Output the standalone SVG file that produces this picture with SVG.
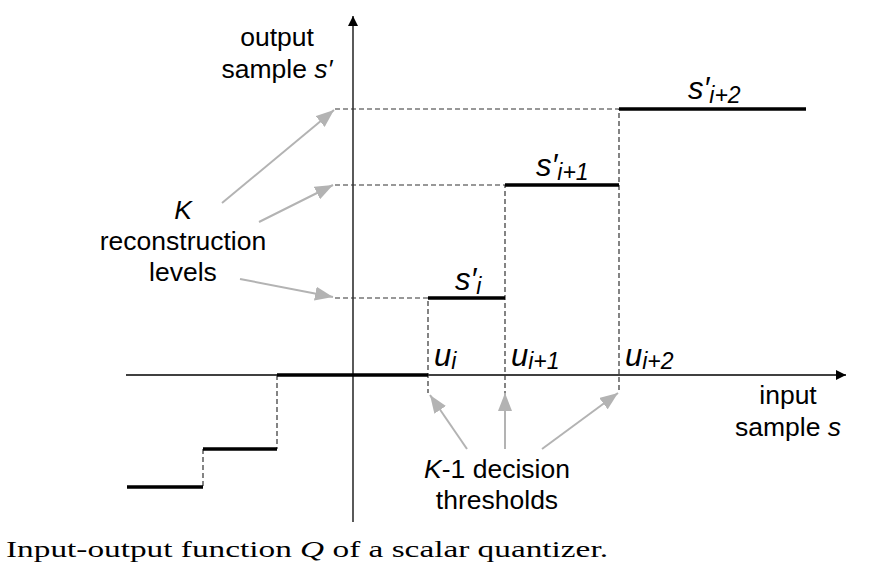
<svg xmlns="http://www.w3.org/2000/svg" width="887" height="571" viewBox="0 0 887 571">
<style>
.t{font-family:"Liberation Sans",Arial,sans-serif;font-size:26.5px;fill:#000}
.i{font-style:italic}
.lv{stroke:#000;stroke-width:3.5;fill:none}
.d{stroke:#333;stroke-width:1.2;stroke-dasharray:5,3;fill:none}
.ax{stroke:#000;stroke-width:1.3;fill:none}
.g{stroke:#b3b3b3;stroke-width:2;fill:none}
</style>
<defs>
<marker id="ah" viewBox="0 0 10 10" refX="10" refY="5" markerWidth="10" markerHeight="10" markerUnits="userSpaceOnUse" orient="auto"><path d="M0,0L10,5L0,10z" fill="#000"/></marker>
<marker id="ga" viewBox="0 0 18 14" refX="18" refY="7" markerWidth="18" markerHeight="14" markerUnits="userSpaceOnUse" orient="auto"><path d="M0,0L18,7L0,14z" fill="#b3b3b3"/></marker>
</defs>
<g id="axes">
<line class="ax" x1="353" y1="522" x2="353" y2="16" marker-end="url(#ah)"/>
<line class="ax" x1="126" y1="375" x2="846" y2="375" marker-end="url(#ah)"/>
</g>
<g id="guides">
<path class="d" d="M335,109H619V393M335,185H505V393M335,298H428V393M277,375V449M203,449V487"/>
</g>
<g id="levels">
<path class="lv" d="M619,109H806M505,185H619M428,298H505M277,375H428M203,449H277M127,487H203"/>
</g>
<g id="connectors">
<line class="g" x1="222" y1="203" x2="334" y2="110" marker-end="url(#ga)"/>
<line class="g" x1="259" y1="222" x2="333" y2="185" marker-end="url(#ga)"/>
<line class="g" x1="240" y1="279" x2="333" y2="297" marker-end="url(#ga)"/>
<line class="g" x1="467" y1="449" x2="430" y2="395" marker-end="url(#ga)"/>
<line class="g" x1="505" y1="449" x2="505" y2="393" marker-end="url(#ga)"/>
<line class="g" x1="542" y1="449" x2="618" y2="393" marker-end="url(#ga)"/>
</g>
<g id="label-output">
<text class="t" x="277" y="46" text-anchor="middle">output</text>
<text class="t" x="277" y="78" text-anchor="middle">sample <tspan class="i">s′</tspan></text>
</g>
<g id="label-recon">
<text class="t i" x="183" y="219" text-anchor="middle">K</text>
<text class="t" x="183" y="250" text-anchor="middle">reconstruction</text>
<text class="t" x="183" y="281" text-anchor="middle">levels</text>
</g>
<g id="label-thresholds">
<text class="t" x="497" y="478" text-anchor="middle"><tspan class="i">K</tspan>-1 decision</text>
<text class="t" x="497" y="509" text-anchor="middle">thresholds</text>
</g>
<g id="label-input">
<text class="t" x="788" y="404" text-anchor="middle">input</text>
<text class="t" x="788" y="436" text-anchor="middle">sample <tspan class="i">s</tspan></text>
</g>
<g id="level-labels" class="t i">
<text x="455" y="290" style="font-size:31px">s′<tspan style="font-size:23px" dy="4">i</tspan></text>
<text x="536" y="176" style="font-size:31px">s′<tspan style="font-size:23px" dy="4">i+1</tspan></text>
<text x="688" y="99" style="font-size:31px">s′<tspan style="font-size:23px" dy="4">i+2</tspan></text>
</g>
<g id="threshold-labels" class="t i">
<text x="434" y="366" style="font-size:31px">u<tspan style="font-size:23px" dy="3">i</tspan></text>
<text x="511" y="366" style="font-size:31px">u<tspan style="font-size:23px" dy="3">i+1</tspan></text>
<text x="625" y="366" style="font-size:31px">u<tspan style="font-size:23px" dy="3">i+2</tspan></text>
</g>
<g id="caption">
<text x="6" y="557" style="font-family:'Liberation Serif','Times New Roman',serif;font-size:24px" textLength="602" lengthAdjust="spacingAndGlyphs">Input-output function <tspan font-style="italic">Q</tspan> of a scalar quantizer.</text>
</g>
</svg>
